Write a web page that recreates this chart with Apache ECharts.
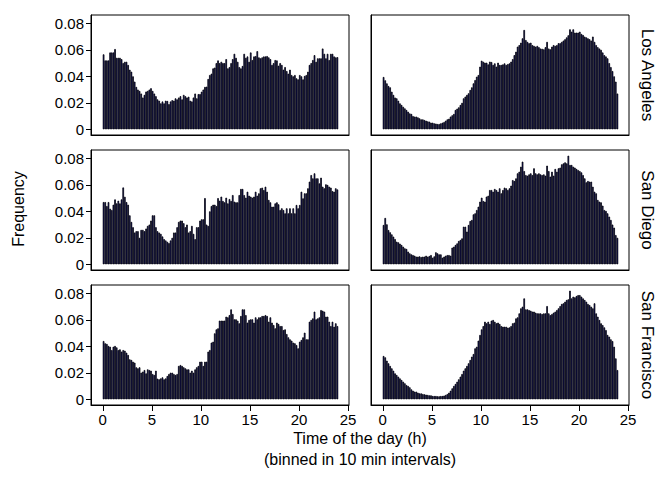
<!DOCTYPE html>
<html>
<head>
<meta charset="utf-8">
<script src="https://cdn.jsdelivr.net/npm/echarts@6/dist/echarts.min.js"></script>
<style>
html,body{margin:0;padding:0;background:#fff;}
#chart{width:657px;height:482px;}
</style>
</head>
<body>
<div id="chart"></div>
<script>
// Panel strip labels (rows)
const cities = ["Los Angeles", "San Diego", "San Francisco"];
// Axis ticks
const xTicks = [0, 5, 10, 15, 20, 25];
const yTicks = [0, 0.02, 0.04, 0.06, 0.08];
// Histogram bins: 10-minute intervals over 24 h (144 bins)
const binHours = 1 / 6;

// Left column
const laLeft = [
  .0566,.052,.052,.052,.058,.058,.058,.0606,.054,.054,.054,.053,
  .050,.051,.051,.0486,.045,.0435,.040,.036,.032,.030,.029,.027,
  .024,.026,.0285,.029,.030,.031,.029,.027,.025,.0226,.0216,.0196,
  .021,.0196,.0216,.0214,.019,.021,.022,.0216,.0234,.0226,.024,.025,
  .0226,.026,.025,.024,.0246,.0216,.021,.024,.027,.0234,.0266,.0266,
  .0284,.030,.032,.0322,.038,.041,.042,.046,.0466,.050,.052,.050,
  .051,.050,.050,.053,.046,.047,.050,.053,.057,.054,.051,.047,
  .046,.0478,.057,.054,.055,.051,.058,.0523,.055,.0553,.059,.0543,
  .0536,.0543,.055,.055,.0553,.0543,.053,.0486,.050,.0523,.052,.048,
  .050,.0486,.045,.047,.044,.042,.045,.041,.040,.041,.0385,.0377,
  .041,.040,.0377,.0403,.041,.0435,.0486,.050,.0523,.056,.051,.0536,
  .0536,.0536,.061,.057,.0536,.057,.0523,.057,.057,.055,.0543,.0545
];
const sdLeft = [
  .047,.047,.044,.047,.042,.041,.045,.049,.046,.048,.046,.049,
  .058,.051,.047,.045,.037,.032,.028,.024,.025,.025,.020,.026,
  .026,.025,.027,.029,.030,.033,.037,.037,.028,.025,.024,.023,
  .021,.019,.018,.017,.016,.018,.020,.024,.024,.028,.032,.033,
  .033,.031,.028,.030,.024,.025,.029,.023,.019,.028,.028,.033,
  .034,.034,.050,.030,.029,.040,.044,.045,.045,.044,.050,.048,
  .0511,.0478,.0468,.0503,.046,.0493,.0478,.0523,.0473,.0468,.0468,.0523,
  .0569,.0569,.0523,.0503,.0548,.0518,.0511,.0503,.0511,.0548,.0518,.0536,
  .0574,.0579,.0561,.0586,.0548,.0486,.0468,.0435,.0435,.046,.0468,.0453,
  .041,.0423,.041,.0385,.0423,.0385,.0423,.0385,.0423,.0385,.0448,.0423,
  .0448,.0548,.0498,.0536,.0536,.0574,.0624,.0674,.0649,.0687,.0649,.0649,
  .0611,.0654,.0586,.0574,.0604,.0599,.0586,.0579,.0553,.0548,.0574,.0565
];
const sfLeft = [
  .044,.0423,.0418,.0403,.0397,.0372,.0397,.0403,.0392,.0372,.0377,.036,
  .0372,.0367,.0352,.0335,.0302,.0297,.0284,.0277,.0242,.0234,.0242,.0201,
  .0209,.0221,.0196,.0226,.0221,.0216,.0191,.0184,.0216,.0156,.0151,.0158,
  .0166,.0151,.0158,.0176,.0191,.0201,.0201,.0191,.0184,.0191,.0252,.0259,
  .0252,.0242,.0234,.0226,.0226,.0201,.0216,.0201,.0226,.0242,.0252,.0284,
  .0284,.0252,.0284,.0284,.036,.0372,.0428,.0435,.0498,.0528,.0536,.0594,
  .0594,.0594,.0594,.0624,.0619,.0636,.0679,.0644,.0604,.0604,.0594,.0574,
  .0629,.0679,.0679,.0636,.0579,.0599,.0604,.0604,.0579,.0619,.0604,.0619,
  .0619,.0629,.0629,.0636,.0629,.0586,.0619,.0579,.0561,.0536,.0579,.0569,
  .0553,.0553,.0523,.0528,.0493,.0468,.0453,.0443,.0428,.0423,.041,.0385,
  .0435,.0448,.0468,.0503,.0453,.0453,.0586,.0599,.0611,.0662,.0604,.0611,
  .0619,.0674,.0669,.0662,.0624,.0624,.0586,.0553,.0586,.0548,.0574,.0553
];

// Right column
const laRight = [
  .0395,.037,.0347,.0327,.0317,.0284,.026,.024,.0234,.0216,.0196,.0184,
  .017,.0158,.0146,.0133,.012,.0116,.010,.0096,.0096,.009,.0083,.0075,
  .0075,.007,.0065,.006,.0058,.005,.005,.0045,.0043,.004,.004,.0045,
  .005,.0055,.0065,.0075,.008,.0096,.0106,.0116,.0146,.0156,.0166,.0184,
  .020,.0234,.0247,.026,.0272,.0297,.0317,.0347,.0372,.0397,.041,.0473,
  .0518,.051,.0503,.0503,.049,.0511,.0508,.0486,.0498,.0473,.0503,.0486,
  .0486,.049,.0498,.0486,.0493,.0498,.0511,.053,.056,.0586,.0624,.0636,
  .0654,.0687,.075,.0674,.066,.065,.0654,.0636,.063,.0624,.063,.062,
  .061,.0608,.0604,.062,.066,.061,.0604,.0624,.0636,.063,.0636,.065,
  .065,.066,.067,.068,.0694,.071,.0755,.0737,.0755,.073,.073,.073,
  .0737,.072,.0712,.070,.0694,.0687,.068,.067,.070,.066,.0636,.062,
  .061,.060,.058,.056,.055,.0536,.050,.047,.044,.040,.036,.027
];
const sdRight = [
  .0297,.035,.0302,.0259,.0242,.0226,.0209,.0191,.0171,.0166,.0156,.0146,
  .0133,.0121,.0116,.0096,.0083,.0075,.007,.0065,.0058,.0058,.006,.0055,
  .0058,.0058,.0065,.0058,.0063,.007,.005,.006,.0091,.0083,.0075,.0075,
  .005,.0058,.0065,.007,.007,.0065,.0126,.0133,.0146,.0158,.0176,.0184,
  .0196,.0284,.0284,.0247,.0297,.0327,.0335,.0377,.0385,.041,.0435,.0473,
  .0503,.0478,.0473,.0511,.0518,.0561,.0561,.0548,.0569,.0561,.0548,.0574,
  .0536,.0561,.0579,.0574,.0561,.0574,.0594,.0636,.0629,.0649,.0687,.0699,
  .0737,.0775,.0704,.0674,.0669,.0679,.0687,.0674,.0725,.0687,.0679,.0687,
  .0679,.0674,.0679,.0669,.0745,.0704,.0662,.0699,.0669,.072,.0699,.0725,
  .073,.0755,.0762,.077,.0762,.082,.075,.075,.0737,.073,.072,.0712,
  .0704,.0694,.0674,.0649,.0619,.0629,.0624,.0624,.0586,.0548,.0536,.0486,
  .0473,.0468,.0443,.041,.0403,.0385,.036,.0335,.030,.0277,.0221,.020
];
const sfRight = [
  .0327,.0317,.0292,.0272,.0252,.0234,.0216,.0196,.0184,.0171,.0158,.0146,
  .0133,.0121,.0108,.0101,.0091,.0075,.0065,.0058,.0058,.005,.0045,.0045,
  .004,.0038,.0035,.0033,.003,.003,.0025,.0025,.0025,.0023,.0023,.0025,
  .0025,.0028,.0033,.004,.005,.0065,.0083,.0101,.0116,.0133,.0151,.0171,
  .0191,.0216,.0234,.0252,.0272,.0297,.0322,.0342,.0385,.0397,.0443,.0486,
  .0528,.0553,.0586,.0574,.0586,.0569,.0594,.0599,.0586,.0574,.0579,.0569,
  .0553,.0548,.0548,.0548,.0541,.0543,.0553,.0574,.0579,.0611,.0619,.0649,
  .0687,.0699,.0762,.0679,.0679,.0674,.0669,.0662,.0662,.0654,.0649,.0649,
  .0649,.0644,.0649,.0649,.0704,.0649,.0636,.0644,.0654,.0662,.0674,.0687,
  .0704,.072,.0725,.0737,.075,.0755,.082,.0762,.0775,.077,.078,.0787,
  .0787,.0775,.0762,.075,.0737,.072,.0712,.0699,.0687,.0725,.0649,.0624,
  .0599,.0574,.0561,.0543,.0523,.0486,.0473,.0453,.0440,.0397,.0309,.0221
];

const panels = [
  [laLeft, laRight],
  [sdLeft, sdRight],
  [sfLeft, sfRight]
];

const FONT = "'Liberation Sans', Arial, Helvetica, sans-serif";
const colLeft = [91, 371];
const rowTop = [15, 150, 285];
const panelW = 258, panelH = 120;

const grids = [], xAxes = [], yAxes = [], series = [];
let k = 0;
for (let r = 0; r < 3; r++) {
  for (let c = 0; c < 2; c++) {
    grids.push({
      left: colLeft[c], top: rowTop[r], width: panelW, height: panelH,
      show: true, borderColor: '#000', borderWidth: 1, backgroundColor: 'transparent'
    });
    xAxes.push({
      gridIndex: k, type: 'value', min: -1.2, max: 25.1, position: 'bottom',
      axisLine: {show: true, onZero: false, lineStyle: {color: '#000', width: 1}},
      splitLine: {show: false},
      axisTick: {show: r === 2, inside: false, customValues: xTicks, length: 6, lineStyle: {color: '#000', width: 1}},
      axisLabel: {show: r === 2, inside: false, customValues: xTicks, color: '#000', fontSize: 15, fontFamily: FONT, margin: 7}
    });
    yAxes.push({
      gridIndex: k, type: 'value', min: -0.0043, max: 0.0863, position: 'left',
      axisLine: {show: true, onZero: false, lineStyle: {color: '#000', width: 1}},
      splitLine: {show: false},
      axisTick: {show: c === 0, inside: false, customValues: yTicks, length: 5, lineStyle: {color: '#000', width: 1}},
      axisLabel: {show: c === 0, inside: false, customValues: yTicks, color: '#000', fontSize: 15, fontFamily: FONT, margin: 7,
        formatter: v => (v === 0 ? '0' : v.toFixed(2))}
    });
    series.push({
      type: 'bar', xAxisIndex: k, yAxisIndex: k,
      data: panels[r][c].map((v, i) => [(i + 0.5) * binHours, v]),
      barWidth: '100%',
      itemStyle: {color: '#000088', borderColor: '#000', borderWidth: 0.75},
      silent: true
    });
    k++;
  }
}

const graphics = [
  {type: 'text', x: 18, y: 209, rotation: Math.PI / 2,
   style: {text: 'Frequency', font: '16px ' + FONT, fill: '#000', textAlign: 'center', textVerticalAlign: 'middle'}},
  {type: 'text', x: 360, y: 438,
   style: {text: 'Time of the day (h)', font: '16px ' + FONT, fill: '#000', textAlign: 'center', textVerticalAlign: 'middle'}},
  {type: 'text', x: 360, y: 459,
   style: {text: '(binned in 10 min intervals)', font: '16px ' + FONT, fill: '#000', textAlign: 'center', textVerticalAlign: 'middle'}}
];
cities.forEach((name, r) => {
  graphics.push({type: 'text', x: 647, y: rowTop[r] + panelH / 2, rotation: -Math.PI / 2,
    style: {text: name, font: '17px ' + FONT, fill: '#000', textAlign: 'center', textVerticalAlign: 'middle'}});
});

const chart = echarts.init(document.getElementById('chart'), null, {renderer: 'svg'});
chart.setOption({
  animation: false,
  backgroundColor: '#fff',
  grid: grids,
  xAxis: xAxes,
  yAxis: yAxes,
  series: series,
  graphic: graphics
});
</script>
</body>
</html>
